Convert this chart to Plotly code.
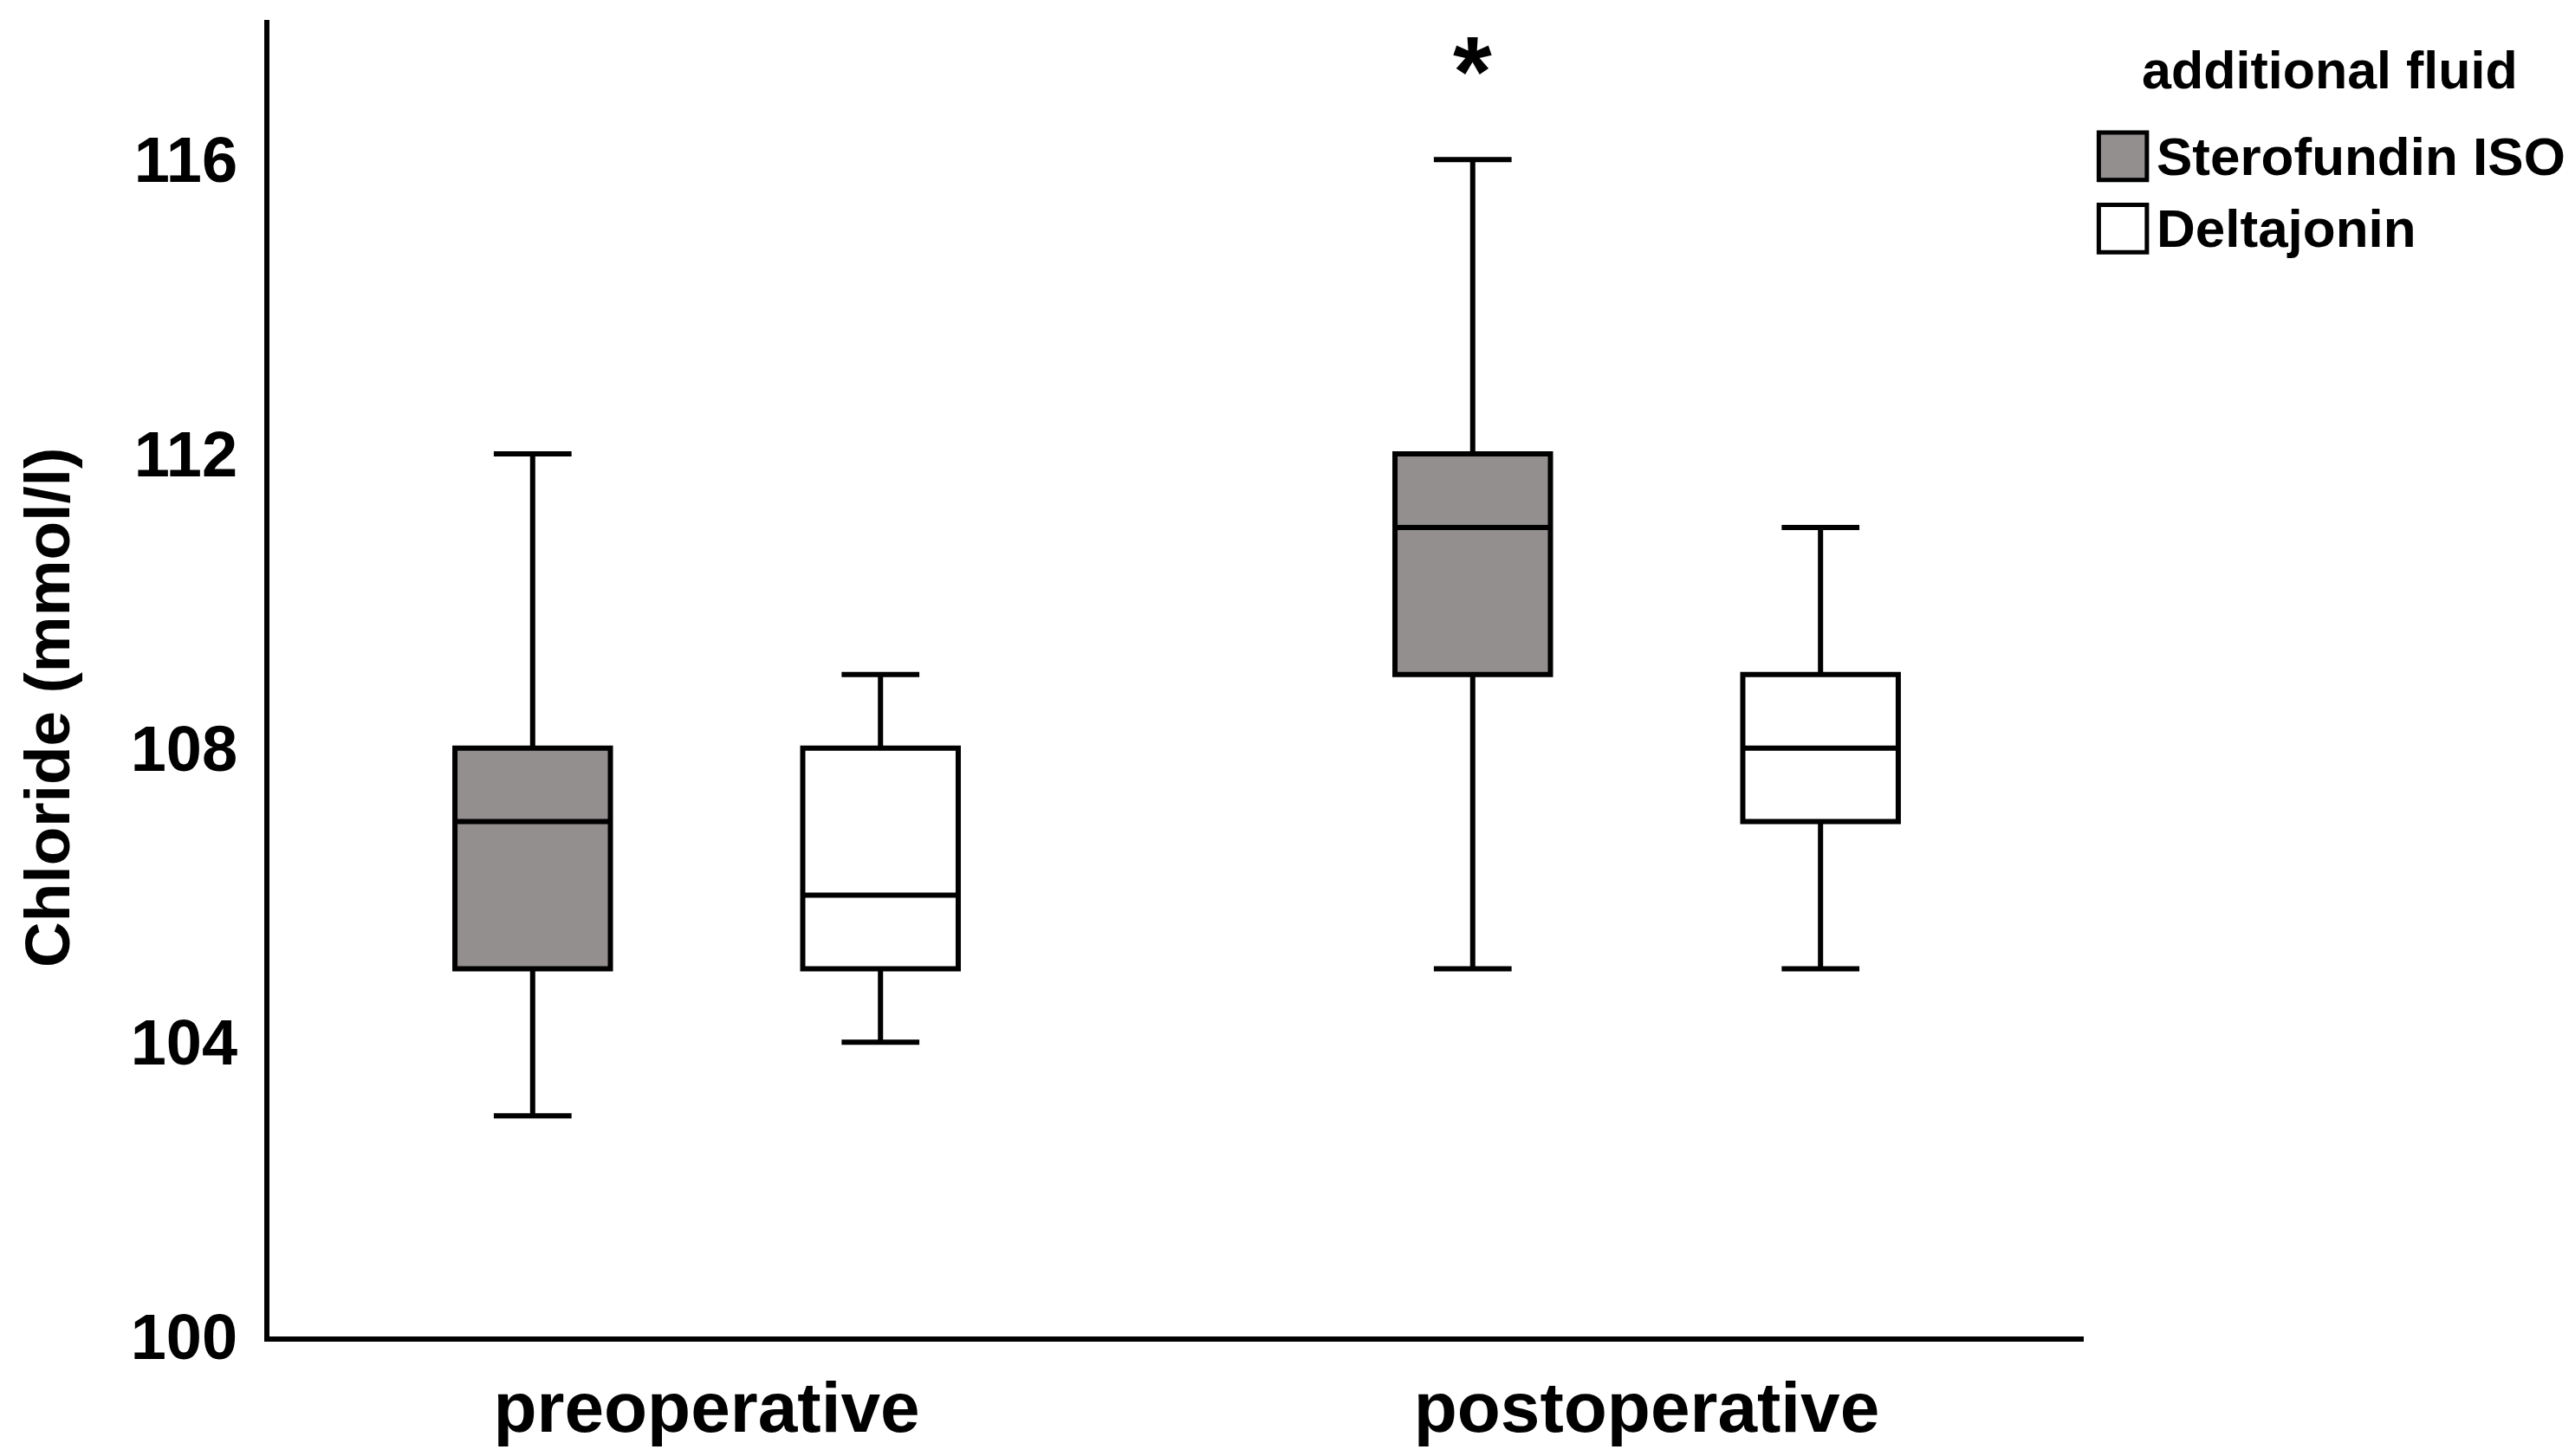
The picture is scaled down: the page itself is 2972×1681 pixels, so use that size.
import plotly.graph_objects as go

# ---- data ----
categories = ["preoperative", "postoperative"]
groups = ["Sterofundin ISO", "Deltajonin"]

stero_lower = [103, 105]
stero_q1 = [105, 109]
stero_median = [107, 111]
stero_q3 = [108, 112]
stero_upper = [112, 116]

delta_lower = [104, 105]
delta_q1 = [105, 107]
delta_median = [106, 108]
delta_q3 = [108, 109]
delta_upper = [109, 111]

y_ticks = [100, 104, 108, 112, 116]
y_title = "Chloride (mmol/l)"
legend_title = "additional fluid"
significance_label = "*"
significance_category = 1  # postoperative, Sterofundin ISO
significance_y = 117.2

# ---- styling ----
FONT = "Liberation Sans, Arial, sans-serif"
GRAY = "#948f8f"
BOXGAP = 0.26
BOXGROUPGAP = 0.553
LW = 6

fig = go.Figure()
fig.add_trace(go.Box(
    name=groups[0], x=categories,
    lowerfence=stero_lower, q1=stero_q1, median=stero_median,
    q3=stero_q3, upperfence=stero_upper,
    fillcolor=GRAY, line=dict(color="black", width=LW),
    whiskerwidth=0.5, showlegend=False, boxpoints=False,
))
fig.add_trace(go.Box(
    name=groups[1], x=categories,
    lowerfence=delta_lower, q1=delta_q1, median=delta_median,
    q3=delta_q3, upperfence=delta_upper,
    fillcolor="white", line=dict(color="black", width=LW),
    whiskerwidth=0.5, showlegend=False, boxpoints=False,
))

offset = (1 - BOXGAP) / 4
fig.add_annotation(
    x=significance_category - offset, y=significance_y, xref="x", yref="y",
    text=significance_label, showarrow=False,
    font=dict(family=FONT, size=115, color="black", weight="bold"),
    yanchor="middle",
)

# y-axis title
fig.add_annotation(
    x=-0.1225, y=0.478, xref="paper", yref="paper", text=y_title,
    textangle=-90, showarrow=False, xanchor="center", yanchor="middle",
    font=dict(family=FONT, size=73, color="black", weight="bold"),
)

# custom legend (swatches sized like the original)
fig.add_annotation(
    x=1.1355, y=0.962, xref="paper", yref="paper", text=legend_title,
    showarrow=False, xanchor="center", yanchor="middle",
    font=dict(family=FONT, size=61, color="black", weight="bold"),
)
legend_rows = [(0.8965, GRAY), (0.8415, "white")]
for (yc, col), label in zip(legend_rows, groups):
    fig.add_shape(
        type="rect", xref="paper", yref="paper",
        x0=1.0083, x1=1.0348, y0=yc - 0.018, y1=yc + 0.018,
        fillcolor=col, line=dict(color="black", width=5),
    )
    fig.add_annotation(
        x=1.0392, y=yc, xref="paper", yref="paper", text=label,
        showarrow=False, xanchor="left", yanchor="middle",
        font=dict(family=FONT, size=62, color="black", weight="bold"),
    )

fig.update_layout(
    width=2972, height=1681,
    margin=dict(l=303, r=575, t=15, b=146),
    paper_bgcolor="white", plot_bgcolor="white",
    boxmode="group", boxgap=BOXGAP, boxgroupgap=BOXGROUPGAP,
    font=dict(family=FONT, color="black"),
    showlegend=False,
)
fig.update_xaxes(
    type="category", categoryorder="array", categoryarray=categories,
    range=[-0.465, 1.465], automargin=False,
    showline=True, linecolor="black", linewidth=LW,
    showgrid=False, zeroline=False, ticks="",
    tickfont=dict(family=FONT, size=82, color="black", weight="bold"),
    ticklabelstandoff=6,
)
fig.update_yaxes(
    range=[100, 117.9], automargin=False,
    tickvals=y_ticks, ticktext=[str(v) for v in y_ticks],
    showline=True, linecolor="black", linewidth=LW,
    showgrid=False, zeroline=False, ticks="",
    tickfont=dict(family=FONT, size=74, color="black", weight="bold"),
    ticklabelstandoff=16,
)

fig.write_html("out.html")
